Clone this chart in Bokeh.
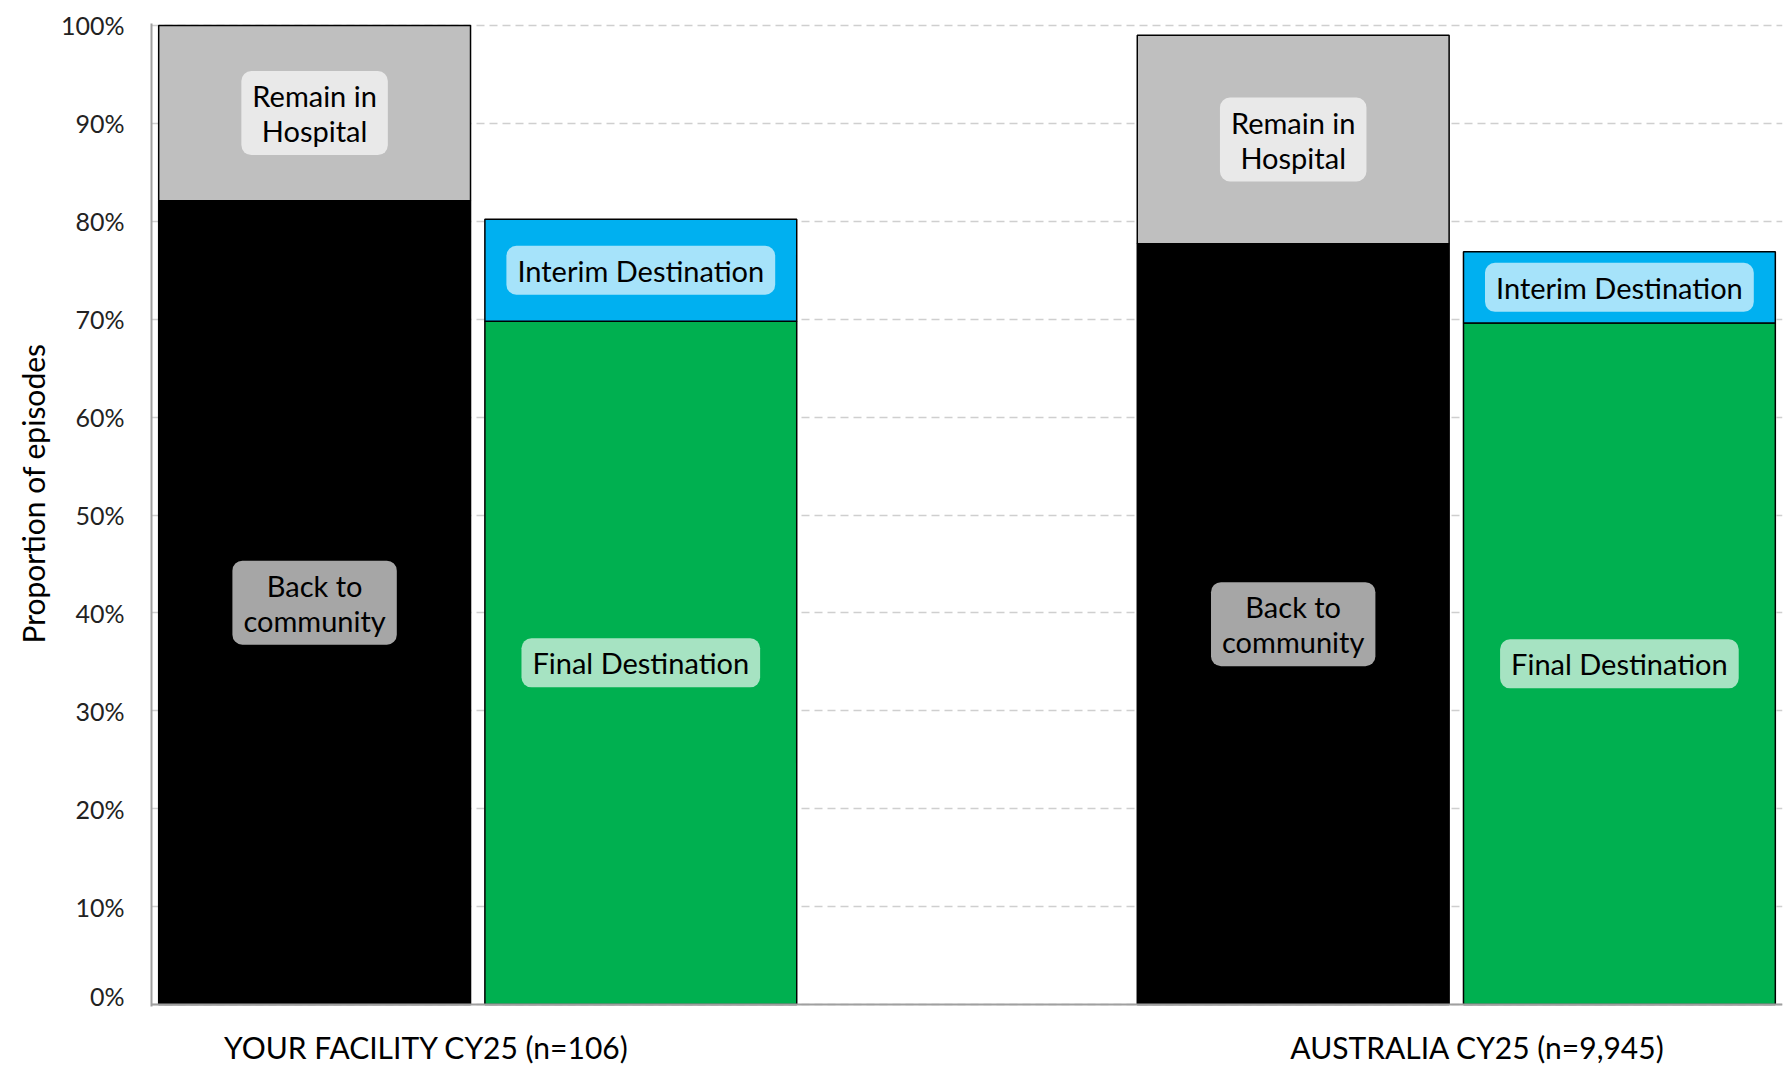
from bokeh.plotting import figure
from bokeh.layouts import column
from bokeh.models import (FactorRange, Range1d, Span, Title,
                          SingleIntervalTicker, PrintfTickFormatter, ColumnDataSource)
from bokeh.core.properties import value
from bokeh.embed import file_html
from bokeh.resources import INLINE

# ---------------- data ----------------
groups = ["YOUR FACILITY CY25 (n=106)", "AUSTRALIA CY25 (n=9,945)"]
status_key = "status"
dest_key = "destination"
back_to_community = [82.1, 77.7]
remain_in_hospital = [17.9, 21.3]
final_destination = [69.8, 69.6]
interim_destination = [10.4, 7.3]

FONT = "Lato"

factors = []
for g in groups:
    factors += [(g, status_key), (g, dest_key)]

p = figure(
    width=1787, height=1010,
    x_range=FactorRange(*factors, factor_padding=0.0, group_padding=1.0, range_padding=0.0),
    y_range=Range1d(-0.2, 100.2),
    x_axis_location=None,
    output_backend="svg", toolbar_location=None,
    min_border_left=151, min_border_right=5, min_border_top=23, min_border_bottom=4,
)
p.outline_line_color = None
p.xgrid.visible = False

status_src = ColumnDataSource(dict(
    x=[(g, status_key) for g in groups],
    back=back_to_community, remain=remain_in_hospital))
dest_src = ColumnDataSource(dict(
    x=[(g, dest_key) for g in groups],
    final=final_destination, interim=interim_destination))

BW = 0.956
p.vbar_stack(["back", "remain"], x="x", width=BW, source=status_src,
             fill_color=["#000000", "#bfbfbf"], line_color="#000000", line_width=1.5)
p.vbar_stack(["final", "interim"], x="x", width=BW, source=dest_src,
             fill_color=["#00b050", "#00b0f0"], line_color="#000000", line_width=1.5)

# segment labels at the middle of each segment
lx, ly, lt = [], [], []
for i, g in enumerate(groups):
    lx += [(g, status_key), (g, status_key), (g, dest_key), (g, dest_key)]
    ly += [back_to_community[i] / 2,
           back_to_community[i] + remain_in_hospital[i] / 2,
           final_destination[i] / 2,
           final_destination[i] + interim_destination[i] / 2]
    lt += ["Back to\ncommunity", "Remain in\nHospital", "Final Destination", "Interim Destination"]
lab_src = ColumnDataSource(dict(x=lx, y=ly, text=lt))
p.text(x="x", y="y", text="text", source=lab_src,
       text_font=value(FONT), text_font_size="29px", text_color="#000000",
       text_align="center", text_baseline="middle", text_line_height=1.0,
       background_fill_color="#ffffff", background_fill_alpha=0.65,
       border_radius=10, padding=[11, 7])

# y axis
p.yaxis.ticker = SingleIntervalTicker(interval=10)
p.yaxis.formatter = PrintfTickFormatter(format="%d%%")
p.yaxis.major_label_text_font = FONT
p.yaxis.major_label_text_font_size = "25px"
p.yaxis.major_label_text_color = "#222222"
p.yaxis.major_label_standoff = 27
p.yaxis.major_tick_out = 0
p.yaxis.major_tick_in = 0
p.yaxis.minor_tick_out = 0
p.yaxis.minor_tick_in = 0
p.yaxis.axis_line_color = "#a0a0a0"
p.yaxis.axis_line_width = 2

# y axis title (side title so it can sit slightly above centre)
p.add_layout(Title(text="Proportion of episodes", align="left", offset=363,
                   standoff=14, text_font=FONT, text_font_size="30px",
                   text_font_style="normal", text_color="#000000"), "left")

p.ygrid.grid_line_color = "#cfcfcf"
p.ygrid.grid_line_width = 1.5
p.ygrid.grid_line_dash = "8 5"

# x baseline
p.add_layout(Span(location=0, dimension="width", line_color="#a0a0a0", line_width=2))

# category labels strip below the plot
p2 = figure(
    width=1787, height=56,
    x_range=Range1d(0, 5), y_range=Range1d(0, 56),
    x_axis_location=None, y_axis_location=None,
    output_backend="svg", toolbar_location=None,
    min_border_left=151, min_border_right=5, min_border_top=0, min_border_bottom=0,
)
p2.outline_line_color = None
p2.xgrid.visible = False
p2.ygrid.visible = False
label_pos = [0.843, 4.065]
cat_src = ColumnDataSource(dict(x=label_pos, y=[20, 20], text=groups))
p2.text(x="x", y="y", text="text", source=cat_src,
        text_font=value(FONT), text_font_size="30px", text_color="#000000",
        text_align="center", text_baseline="middle")

layout = column(p, p2, spacing=0)
open("out.html", "w").write(file_html(layout, INLINE))
